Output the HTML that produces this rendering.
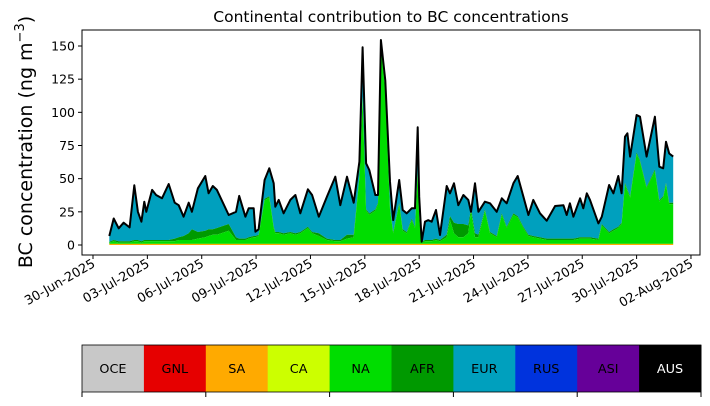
<!DOCTYPE html>
<html><head><meta charset="utf-8"><style>
body{margin:0;background:#fff;font-family:"DejaVu Sans","Liberation Sans",sans-serif;}
svg text{font-family:"DejaVu Sans","Liberation Sans",sans-serif;}
</style></head><body>
<svg id="chart" width="710" height="402" viewBox="0 0 710 402" xmlns="http://www.w3.org/2000/svg">
<text x="391" y="22" font-size="15.5" text-anchor="middle">Continental contribution to BC concentrations</text>
<text transform="translate(32,142) rotate(-90)" font-size="19" text-anchor="middle">BC concentration (ng m<tspan dy="-8" font-size="13">−3</tspan><tspan dy="8">)</tspan></text>
<g id="areas"></g><g id="axes"></g><g id="legend"></g>
</svg>
<script>
const days=[0.90,1.14,1.42,1.69,2.02,2.28,2.48,2.67,2.83,2.94,3.26,3.48,3.81,4.18,4.51,4.73,5.0,5.28,5.46,5.79,6.20,6.38,6.61,6.84,7.49,7.89,8.07,8.41,8.59,8.87,8.96,9.14,9.47,9.73,9.97,10.06,10.25,10.52,10.89,11.17,11.44,11.86,12.09,12.46,12.91,13.37,13.65,14.02,14.39,14.70,14.88,15.07,15.25,15.58,15.73,15.89,16.13,16.39,16.57,16.9,17.09,17.31,17.59,17.77,17.92,18.0,18.14,18.32,18.5,18.69,18.93,19.15,19.52,19.7,19.92,20.16,20.44,20.71,20.86,21.08,21.27,21.63,21.91,22.28,22.56,22.83,23.2,23.44,23.75,24.03,24.3,24.67,25.04,25.5,25.96,26.14,26.32,26.51,26.88,27.06,27.25,27.43,27.89,28.08,28.48,28.72,28.99,29.17,29.36,29.49,29.64,30.0,30.19,30.55,31.01,31.25,31.47,31.62,31.8,32.02];
const total=[6.8,20,12.6,16.8,13.3,45,25,17.6,32.6,25,41.5,37.7,35.2,46,31.9,30,21.3,31.9,25,42.7,52,39,44.5,41.5,22.6,25,37,21.3,27.7,27.7,10,11.8,49,57.8,46.5,28.9,34,23.9,34,37.7,23.9,42,37.7,21.3,36.4,51.5,30,51.5,31.9,62.8,149,61.6,56.5,37.7,37.7,154.5,124,47.7,18.8,49,26.4,23.9,27.7,27.7,88.7,36.4,2.5,17.6,18.8,17.6,26.4,7.5,44.5,39,46.5,30,37.7,34,25,46.5,25,32.6,31.4,25,35.2,31.4,46.5,52,36.4,22.6,34,23.9,18.3,29.4,30,22.6,31.4,21.3,35.2,27.7,39,34,16.3,21.3,45.2,39,52,39,81.6,84.2,66.6,98,96.7,66.6,96.7,59,57.8,77.9,69,66.6];
const naVals=[1,2,1,1,1,2,2,1,2,2,2,2,2,2,2,3,3,3,3,4,5,6,7,7,10,3,3,3,4,5,5,6,33,35,12,8,8,7,8,7,8,12,8,6,3,2,2,4,5,50,110,25,22,25,30,150,115,26,8,30,10,8,18,12,55,20,1,2,2,2,3,2,5,18,8,5,5,8,25,5,5,25,8,5,22,12,22,20,12,6,5,4,3,3,3,3,3,3,4,4,4,4,3,14,8,10,12,15,45,40,35,68,62,42,55,32,35,45,30,30];
const afrVals=[0.5,1,1,1,1,1,1,1,1,1,1,1,1,1,2,2,3,5,8,5,5,5,4,5,5,2,1,1,1,1,1,1,1,1,1,1,1,1,1,1,1,1,1,2,1,1,1,3,2,1,1,1,1,1,1,1,1,1,1,1,1,1,1,1,1,1,0.5,1,1,1,1,1,2,3,8,10,10,6,2,3,2,1,1,1,1,1,1,1,1,1,1,1,1,1,1,1,1,1,1,1,1,1,1,1,1,1,1,1,1,1,1,1,1,1,1,1,1,1,1,1];
const saVals=days.map(()=>0.8);
const yTicks=[0,25,50,75,100,125,150];
const xTickDays=[0,3,6,9,12,15,18,21,24,27,30,33];
const xTickLabels=["30-Jun-2025","03-Jul-2025","06-Jul-2025","09-Jul-2025","12-Jul-2025","15-Jul-2025","18-Jul-2025","21-Jul-2025","24-Jul-2025","27-Jul-2025","30-Jul-2025","02-Aug-2025"];
const regions=["OCE","GNL","SA","CA","NA","AFR","EUR","RUS","ASI","AUS"];
const colors=["#c8c8c8","#e60000","#ffaa00","#ccff00","#00dd00","#009900","#00a0be","#0033dd","#660099","#000000"];

const NS="http://www.w3.org/2000/svg";
const L=82,R=700,T=30,B=255;
const X=d=>93+d*18.12;
const Y=v=>245-v*1.3267;
function mk(tag,attrs,parent){const e=document.createElementNS(NS,tag);for(const k in attrs)e.setAttribute(k,attrs[k]);parent.appendChild(e);return e;}
const areas=document.getElementById('areas'),axes=document.getElementById('axes'),legend=document.getElementById('legend');

const s1=saVals, s2=days.map((d,i)=>saVals[i]+naVals[i]), s3=days.map((d,i)=>s2[i]+afrVals[i]);
const s4=days.map((d,i)=>Math.max(total[i],s3[i]));
function band(lo,hi,color,name){
  let p="M"+days.map((d,i)=>X(d).toFixed(1)+","+Y(hi[i]).toFixed(1)).join("L");
  for(let i=days.length-1;i>=0;i--)p+="L"+X(days[i]).toFixed(1)+","+Y(lo[i]).toFixed(1);
  const e=mk('path',{d:p+"Z",fill:color},areas);
  
  
}
const zero=days.map(()=>0);
band(s3,s4,colors[6],'eur-area');
band(s2,s3,colors[5],'afr-area');
band(s1,s2,colors[4],'na-area');
band(zero,s1,colors[2],'sa-area');
const line=mk('polyline',{points:days.map((d,i)=>X(d).toFixed(1)+","+Y(total[i]).toFixed(1)).join(" "),fill:"none",stroke:"#000",'stroke-width':2,'stroke-linejoin':'round'},areas);



const fr=mk('rect',{x:L,y:T,width:R-L,height:B-T,fill:'none',stroke:'#000','stroke-width':1},axes);


yTicks.forEach(v=>{
  mk('line',{x1:L-4,x2:L,y1:Y(v),y2:Y(v),stroke:'#000'},axes);
  const t=mk('text',{x:L-7,y:Y(v)+4.5,'font-size':12.5,'text-anchor':'end'},axes);t.textContent=v;
  
  
});
xTickDays.forEach((d,i)=>{
  const x=X(d);
  mk('line',{x1:x,x2:x,y1:B,y2:B+4,stroke:'#000'},axes);
  const t=mk('text',{transform:`translate(${x+3},${B+11}) rotate(-30)`,'font-size':12.8,'text-anchor':'end'},axes);
  t.textContent=xTickLabels[i];
  
  
});

const cw=(701-82)/regions.length;
regions.forEach((r,i)=>{
  const g=mk('g',{},legend);
  
  
  mk('rect',{x:82+i*cw,y:345,width:cw+0.5,height:47,fill:colors[i]},g);
  const t=mk('text',{x:82+i*cw+cw/2,y:373,'font-size':12.8,'text-anchor':'middle',fill:i===9?'#fff':'#000'},g);
  t.textContent=r;
});
mk('rect',{x:82,y:345,width:619,height:47,fill:'none',stroke:'#000','stroke-width':0.8},legend);
for(let k=0;k<=5;k++){const x=82+k*2*cw;mk('line',{x1:x,x2:x,y1:392,y2:397,stroke:'#000'},legend);}
</script>
</body></html>
